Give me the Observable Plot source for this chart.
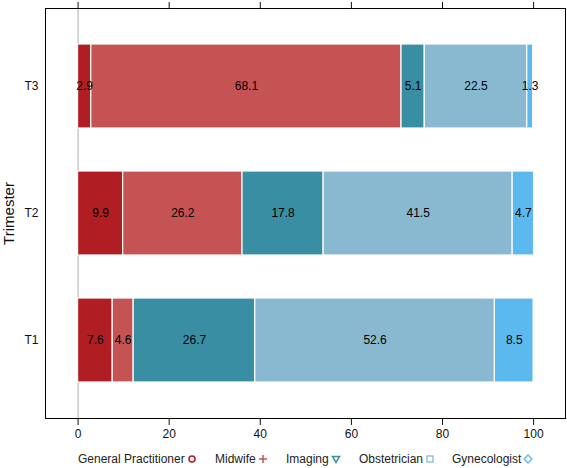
<!DOCTYPE html>
<html>
<head>
<meta charset="utf-8">
<script src="https://cdn.jsdelivr.net/npm/d3@7"></script>
<script src="https://cdn.jsdelivr.net/npm/@observablehq/plot@0.6"></script>
<style>
  body { margin: 0; background: #fff; font-family: "Liberation Sans", Arial, sans-serif; }
  #chart { position: relative; width: 567px; height: 468px; }
  #legend { position: absolute; left: 0; top: 452px; width: 567px; height: 18px; font-size: 12px; color: #222; }
  .item { position: absolute; top: 0; display: flex; align-items: center; white-space: nowrap; }
  .item svg { margin-left: 2px; }
</style>
</head>
<body>
<div id="chart"><div id="legend"></div></div>
<script>
const trimesters = ["T3", "T2", "T1"];
const categories = ["General Practitioner", "Midwife", "Imaging", "Obstetrician", "Gynecologist"];
const t1Values = [7.6, 4.6, 26.7, 52.6, 8.5];
const t2Values = [9.9, 26.2, 17.8, 41.5, 4.7];
const t3Values = [2.9, 68.1, 5.1, 22.5, 1.3];
const xTicks = [0, 20, 40, 60, 80, 100];
const colors = ["#b01e23", "#c65353", "#3a8ea3", "#88b9d1", "#5cb9ef"];
const symbols = ["circle", "plus", "triangle", "square", "diamond"];

const seriesByTrimester = { T1: t1Values, T2: t2Values, T3: t3Values };
const data = [];
for (const t of ["T1", "T2", "T3"]) {
  seriesByTrimester[t].forEach((v, i) => data.push({ trimester: t, category: categories[i], value: v }));
}

const plot = Plot.plot({
  width: 567,
  height: 446,
  marginLeft: 45,
  marginRight: 2,
  marginTop: 8,
  marginBottom: 28,
  style: { fontFamily: "Liberation Sans, Arial, sans-serif", fontSize: "12px", color: "#111" },
  x: { domain: [-7.15, 107.0], ticks: xTicks },
  y: { domain: trimesters, paddingInner: 0.34, paddingOuter: 0.28 },
  color: { domain: categories, range: colors },
  marks: [
    Plot.ruleX([0], { stroke: "#aaa", strokeWidth: 1 }),
    Plot.barX(data, Plot.stackX({
      x: "value", y: "trimester", z: "category", fill: "category",
      order: categories, stroke: "white", strokeWidth: 1.2, inset: 0
    })),
    Plot.text(data, Plot.stackX({
      x: "value", y: "trimester", z: "category",
      order: categories, text: d => d.value.toFixed(1), fill: "black", fontSize: 12
    })),
    Plot.frame({ stroke: "black", strokeWidth: 1 }),
    Plot.axisX({ anchor: "bottom", ticks: xTicks, tickSize: 7, tickPadding: 4, label: null, fontSize: 12 }),
    Plot.axisX({ anchor: "top", ticks: xTicks, tickSize: 7, tickFormat: () => "", label: null }),
    Plot.axisY({ anchor: "left", tickSize: 0, tickPadding: 7, label: null, fontSize: 12 }),
    Plot.axisY({ anchor: "left", tickSize: 0, ticks: [], label: "Trimester", labelAnchor: "center", labelArrow: "none", labelOffset: 42, fontSize: 15 })
  ]
});
const chart = document.getElementById("chart");
chart.insertBefore(plot, chart.firstChild);

// legend
const legend = document.getElementById("legend");
const lefts = [78, 215, 286, 359, 452];
function symbolSvg(kind, color) {
  let inner = "";
  if (kind === "circle") inner = `<circle cx="5" cy="5" r="3" fill="none" stroke="${color}" stroke-width="1.5"/>`;
  if (kind === "plus") inner = `<path d="M5 1V9M1 5H9" stroke="${color}" stroke-width="1.5"/>`;
  if (kind === "triangle") inner = `<path d="M1.5 2.5H8.5L5 8.5Z" fill="none" stroke="${color}" stroke-width="1.5"/>`;
  if (kind === "square") inner = `<rect x="2" y="2" width="6" height="6" fill="none" stroke="${color}" stroke-width="1.3"/>`;
  if (kind === "diamond") inner = `<path d="M5 1L9 5L5 9L1 5Z" fill="none" stroke="${color}" stroke-width="1.3"/>`;
  return `<svg width="10" height="10" viewBox="0 0 10 10">${inner}</svg>`;
}
categories.forEach((c, i) => {
  const d = document.createElement("div");
  d.className = "item";
  d.style.left = lefts[i] + "px";
  d.innerHTML = `<span>${c}</span>${symbolSvg(symbols[i], colors[i])}`;
  legend.appendChild(d);
});
</script>
</body>
</html>
